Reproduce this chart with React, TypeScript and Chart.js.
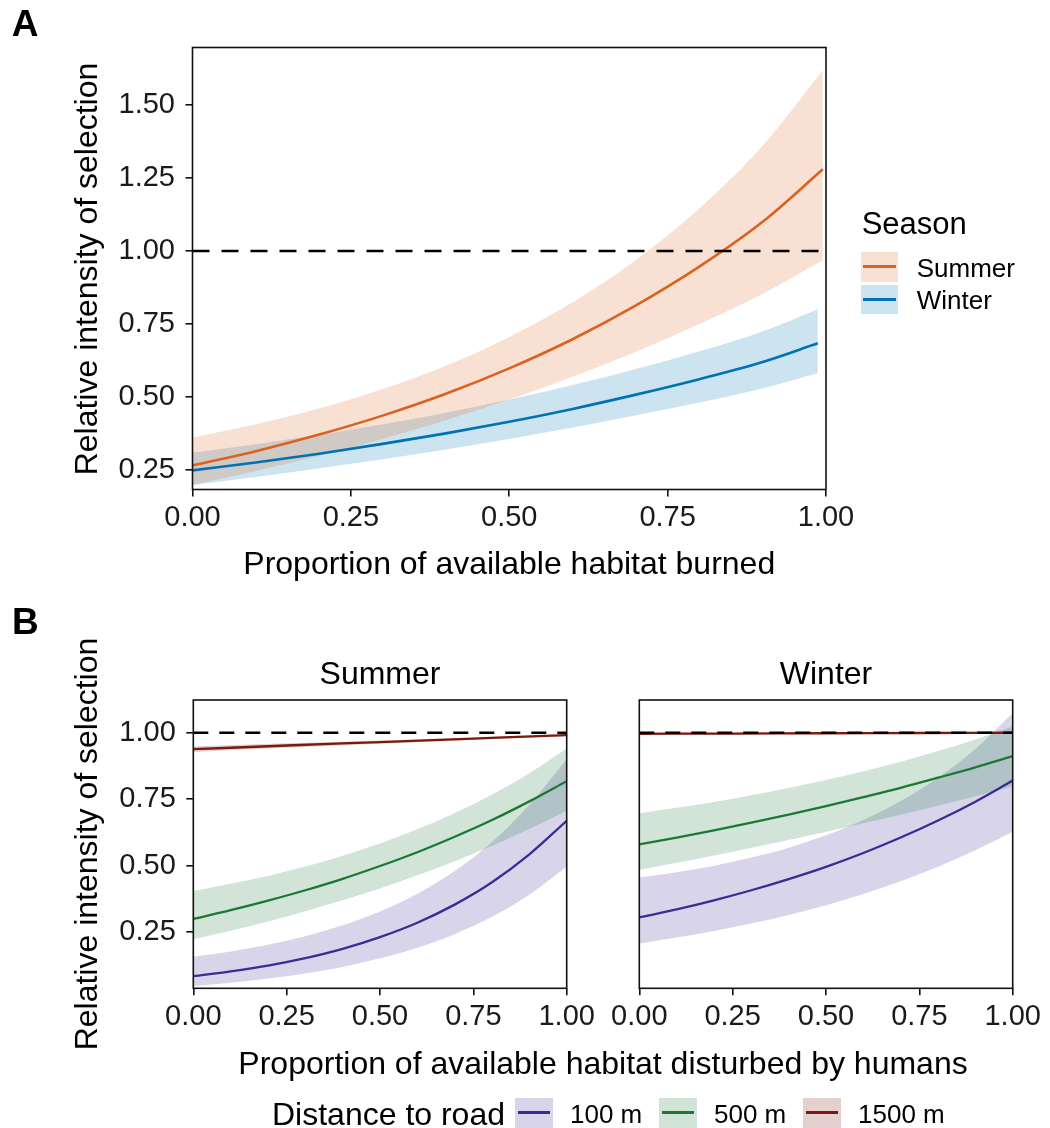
import React, { useEffect, useRef } from "react";
import { Chart, registerables } from "chart.js";

Chart.register(...registerables);

// ---------- Panel A: selection vs. proportion of habitat burned ----------
const seasons = ["Summer", "Winter"];
const burnSummerX = [0, 0.1, 0.2, 0.3, 0.4, 0.5, 0.6, 0.7, 0.8, 0.9, 0.995];
const summerFit = [0.264, 0.313, 0.37, 0.435, 0.51, 0.597, 0.697, 0.813, 0.946, 1.1, 1.28];
const summerLow = [0.197, 0.245, 0.297, 0.355, 0.419, 0.49, 0.568, 0.654, 0.749, 0.853, 0.968];
const summerHigh = [0.36, 0.405, 0.459, 0.526, 0.606, 0.705, 0.824, 0.969, 1.146, 1.361, 1.62];

const burnWinterX = [0, 0.1, 0.2, 0.3, 0.4, 0.5, 0.6, 0.7, 0.8, 0.9, 0.987];
const winterFit = [0.247, 0.274, 0.304, 0.338, 0.374, 0.414, 0.458, 0.507, 0.56, 0.619, 0.683];
const winterLow = [0.197, 0.224, 0.254, 0.285, 0.319, 0.355, 0.394, 0.436, 0.48, 0.528, 0.58];
const winterHigh = [0.308, 0.337, 0.369, 0.405, 0.445, 0.49, 0.54, 0.595, 0.656, 0.724, 0.8];

// ---------- Panel B: selection vs. proportion disturbed by humans ----------
const roadLabels = ["100 m", "500 m", "1500 m"];
const disturbX = [0, 0.1, 0.2, 0.3, 0.4, 0.5, 0.6, 0.7, 0.8, 0.9, 1];
const road1500X = [0, 0.25, 0.5, 0.75, 1];

const road100SummerFit = [0.085, 0.103, 0.125, 0.153, 0.188, 0.232, 0.286, 0.354, 0.438, 0.543, 0.669];
const road100SummerLow = [0.048, 0.06, 0.076, 0.095, 0.12, 0.152, 0.192, 0.243, 0.308, 0.391, 0.496];
const road100SummerHigh = [0.158, 0.178, 0.203, 0.235, 0.276, 0.328, 0.395, 0.48, 0.589, 0.729, 0.9];
const road500SummerFit = [0.3, 0.333, 0.369, 0.408, 0.451, 0.499, 0.551, 0.609, 0.672, 0.742, 0.818];
const road500SummerLow = [0.224, 0.256, 0.291, 0.329, 0.37, 0.415, 0.464, 0.517, 0.575, 0.638, 0.707];
const road500SummerHigh = [0.405, 0.432, 0.462, 0.497, 0.538, 0.584, 0.637, 0.698, 0.768, 0.848, 0.941];
const road1500SummerFit = [0.938, 0.952, 0.965, 0.978, 0.991];
const road1500SummerLow = [0.928, 0.944, 0.959, 0.974, 0.988];
const road1500SummerHigh = [0.948, 0.96, 0.971, 0.982, 0.994];

const road100WinterFit = [0.306, 0.336, 0.37, 0.408, 0.45, 0.496, 0.548, 0.606, 0.67, 0.741, 0.82];
const road100WinterLow = [0.208, 0.23, 0.255, 0.283, 0.315, 0.352, 0.394, 0.442, 0.496, 0.558, 0.628];
const road100WinterHigh = [0.456, 0.476, 0.5, 0.531, 0.568, 0.615, 0.672, 0.743, 0.831, 0.939, 1.073];
const road500WinterFit = [0.58, 0.606, 0.633, 0.662, 0.692, 0.724, 0.758, 0.793, 0.831, 0.87, 0.912];
const road500WinterLow = [0.484, 0.511, 0.539, 0.568, 0.597, 0.628, 0.66, 0.692, 0.726, 0.761, 0.797];
const road500WinterHigh = [0.697, 0.718, 0.74, 0.765, 0.792, 0.822, 0.855, 0.891, 0.931, 0.975, 1.023];
const road1500WinterFit = [0.996, 0.997, 0.998, 0.999, 1.0];
const road1500WinterLow = [0.992, 0.994, 0.995, 0.997, 0.998];
const road1500WinterHigh = [1.0, 1.0, 1.001, 1.001, 1.002];

// reference line at "no selection"
const refX = [0, 1];
const refY = [1, 1];

// axis ticks
const xTicks = [0, 0.25, 0.5, 0.75, 1];
const yTicksA = [0.25, 0.5, 0.75, 1, 1.25, 1.5];
const yTicksB = [0.25, 0.5, 0.75, 1];

const seasonColors = ["#DA6220", "#0072B2"];
const roadColors = ["#3A2C94", "#1A7A35", "#7A1A0D"];

const FONT = '"Liberation Sans", Arial, Helvetica, sans-serif';
const X_AXIS_H = 60;

type Band = { x: number[]; fit: number[]; low: number[]; high: number[]; color: string };

const pts = (xs: number[], ys: number[]) => xs.map((x, i) => ({ x, y: ys[i] }));

const alpha = (hex: string, a: number) => {
  const n = parseInt(hex.slice(1), 16);
  return `rgba(${(n >> 16) & 255},${(n >> 8) & 255},${n & 255},${a})`;
};

const panelBox = {
  id: "panelBox",
  afterDatasetsDraw(chart: any) {
    const { ctx, chartArea: a } = chart;
    ctx.save();
    ctx.strokeStyle = "#111";
    ctx.lineWidth = 1.6;
    ctx.strokeRect(a.left, a.top, a.right - a.left, a.bottom - a.top);
    ctx.restore();
  },
};

type PanelSpec = {
  width: number;
  height: number;
  area: { left: number; top: number; right: number; bottom: number };
  yMin: number;
  yMax: number;
  yTicks: number[] | null;
  dash: number[];
  lineWidth: number;
  series: Band[];
};

function buildConfig(p: PanelSpec): any {
  const datasets: any[] = [];
  datasets.push({
    data: pts(refX, refY),
    borderColor: "#000",
    borderWidth: 2.6,
    borderDash: p.dash,
    pointRadius: 0,
    fill: false,
  });
  p.series.forEach((s) => {
    datasets.push({
      data: pts(s.x, s.fit),
      borderColor: s.color,
      borderWidth: p.lineWidth,
      pointRadius: 0,
      fill: false,
      cubicInterpolationMode: "monotone",
    });
  });
  p.series.forEach((s) => {
    const hiIndex = datasets.length;
    datasets.push({
      data: pts(s.x, s.high),
      borderColor: "rgba(0,0,0,0)",
      borderWidth: 0,
      pointRadius: 0,
      fill: { target: hiIndex + 1 },
      backgroundColor: alpha(s.color, 0.2),
      cubicInterpolationMode: "monotone",
    });
    datasets.push({
      data: pts(s.x, s.low),
      borderColor: "rgba(0,0,0,0)",
      borderWidth: 0,
      pointRadius: 0,
      fill: false,
      cubicInterpolationMode: "monotone",
    });
  });

  const tickFont = { family: FONT, size: 29 };
  const tickGrid = {
    display: true,
    drawOnChartArea: false,
    drawTicks: true,
    tickLength: 7,
    color: "#111",
    lineWidth: 1.6,
  };

  return {
    type: "line",
    data: { datasets },
    plugins: [panelBox],
    options: {
      animation: false,
      responsive: false,
      events: [],
      layout: {
        padding: {
          left: p.yTicks ? 0 : p.area.left,
          top: p.area.top,
          right: p.width - p.area.right,
          bottom: p.height - p.area.bottom - X_AXIS_H,
        },
      },
      plugins: {
        legend: { display: false },
        tooltip: { enabled: false },
        filler: { drawTime: "beforeDatasetsDraw", propagate: false },
      },
      scales: {
        x: {
          type: "linear",
          min: 0,
          max: 1,
          afterBuildTicks: (s: any) => {
            s.ticks = xTicks.map((value) => ({ value }));
          },
          afterFit: (s: any) => {
            s.height = X_AXIS_H;
          },
          grid: tickGrid,
          border: { display: false },
          ticks: {
            font: tickFont,
            color: "#1a1a1a",
            padding: 4,
            maxRotation: 0,
            autoSkip: false,
            callback: (v: any) => Number(v).toFixed(2),
          },
        },
        y: {
          type: "linear",
          display: !!p.yTicks,
          min: p.yMin,
          max: p.yMax,
          afterBuildTicks: (s: any) => {
            s.ticks = (p.yTicks || []).map((value) => ({ value }));
          },
          afterFit: (s: any) => {
            s.width = p.yTicks ? p.area.left : 0;
          },
          grid: tickGrid,
          border: { display: false },
          ticks: {
            font: tickFont,
            color: "#1a1a1a",
            padding: 10.5,
            autoSkip: false,
            callback: (v: any) => Number(v).toFixed(2),
          },
        },
      },
    },
  };
}

function ChartCanvas({ left, top, spec }: { left: number; top: number; spec: PanelSpec }) {
  const ref = useRef<HTMLCanvasElement>(null);
  useEffect(() => {
    const chart = new Chart(ref.current as HTMLCanvasElement, buildConfig(spec));
    return () => chart.destroy();
  }, []);
  return (
    <canvas
      ref={ref}
      width={spec.width}
      height={spec.height}
      style={{ position: "absolute", left, top, width: spec.width, height: spec.height }}
    />
  );
}

function Txt({
  x,
  y,
  size,
  children,
  bold = false,
  rotate = false,
  anchor = "middle",
}: {
  x: number;
  y: number;
  size: number;
  children: React.ReactNode;
  bold?: boolean;
  rotate?: boolean;
  anchor?: "start" | "middle" | "end";
}) {
  const tx = anchor === "start" ? "0" : anchor === "end" ? "-100%" : "-50%";
  return (
    <div
      style={{
        position: "absolute",
        left: x,
        top: y,
        transform: `translate(${tx},-50%)${rotate ? " rotate(-90deg)" : ""}`,
        fontFamily: FONT,
        fontSize: size,
        fontWeight: bold ? 700 : 400,
        lineHeight: 1,
        whiteSpace: "nowrap",
        color: "#000",
      }}
    >
      {children}
    </div>
  );
}

function KeyBox({ x, y, color }: { x: number; y: number; color: string }) {
  return (
    <div
      style={{
        position: "absolute",
        left: x,
        top: y,
        width: 37.5,
        height: 29.3,
        background: alpha(color, 0.2),
      }}
    >
      <div
        style={{
          position: "absolute",
          left: 2.5,
          right: 2.5,
          top: 13.2,
          height: 3,
          background: color,
        }}
      />
    </div>
  );
}

const panelA: PanelSpec = {
  width: 1050,
  height: 600,
  area: { left: 192.5, top: 47.5, right: 826, bottom: 489.5 },
  yMin: 0.1815,
  yMax: 1.698,
  yTicks: yTicksA,
  dash: [17, 12],
  lineWidth: 2.6,
  series: [
    { x: burnSummerX, fit: summerFit, low: summerLow, high: summerHigh, color: seasonColors[0] },
    { x: burnWinterX, fit: winterFit, low: winterLow, high: winterHigh, color: seasonColors[1] },
  ],
};

const panelBSummer: PanelSpec = {
  width: 610,
  height: 528,
  area: { left: 193.3, top: 100, right: 566.7, bottom: 388.3 },
  yMin: 0.0395,
  yMax: 1.123,
  yTicks: yTicksB,
  dash: [15, 11],
  lineWidth: 2.3,
  series: [
    { x: road1500X, fit: road1500SummerFit, low: road1500SummerLow, high: road1500SummerHigh, color: roadColors[2] },
    { x: disturbX, fit: road500SummerFit, low: road500SummerLow, high: road500SummerHigh, color: roadColors[1] },
    { x: disturbX, fit: road100SummerFit, low: road100SummerLow, high: road100SummerHigh, color: roadColors[0] },
  ],
};

const panelBWinter: PanelSpec = {
  width: 450,
  height: 528,
  area: { left: 39.3, top: 100, right: 412.7, bottom: 388.3 },
  yMin: 0.0395,
  yMax: 1.123,
  yTicks: null,
  dash: [15, 11],
  lineWidth: 2.3,
  series: [
    { x: road1500X, fit: road1500WinterFit, low: road1500WinterLow, high: road1500WinterHigh, color: roadColors[2] },
    { x: disturbX, fit: road500WinterFit, low: road500WinterLow, high: road500WinterHigh, color: roadColors[1] },
    { x: disturbX, fit: road100WinterFit, low: road100WinterLow, high: road100WinterHigh, color: roadColors[0] },
  ],
};

export default function App() {
  return (
    <div
      style={{
        position: "absolute",
        left: 0,
        top: 0,
        width: 1050,
        height: 1128,
        background: "#fff",
        overflow: "hidden",
      }}
    >
      <ChartCanvas left={0} top={0} spec={panelA} />
      <ChartCanvas left={0} top={600} spec={panelBSummer} />
      <ChartCanvas left={600} top={600} spec={panelBWinter} />

      {/* panel letters */}
      <Txt x={25} y={23.3} size={37} bold>A</Txt>
      <Txt x={25.3} y={620.5} size={37} bold>B</Txt>

      {/* panel A axis titles */}
      <Txt x={86} y={268.75} size={32} rotate>Relative intensity of selection</Txt>
      <Txt x={509.25} y={562.5} size={32}>Proportion of available habitat burned</Txt>

      {/* panel A legend */}
      <Txt x={861.7} y={222.5} size={31} anchor="start">Season</Txt>
      <KeyBox x={860.7} y={252.3} color={seasonColors[0]} />
      <KeyBox x={860.7} y={285} color={seasonColors[1]} />
      <Txt x={916.7} y={268.3} size={26} anchor="start">{seasons[0]}</Txt>
      <Txt x={916.7} y={299.5} size={26} anchor="start">{seasons[1]}</Txt>

      {/* panel B facet titles and axis titles */}
      <Txt x={380} y={673} size={32}>{seasons[0]}</Txt>
      <Txt x={826} y={673} size={32}>{seasons[1]}</Txt>
      <Txt x={86} y={844} size={32} rotate>Relative intensity of selection</Txt>
      <Txt x={603} y={1062.5} size={32}>Proportion of available habitat disturbed by humans</Txt>

      {/* panel B legend */}
      <Txt x={505} y={1113.8} size={32} anchor="end">Distance to road</Txt>
      <KeyBox x={515} y={1098.3} color={roadColors[0]} />
      <Txt x={570} y={1113.8} size={26} anchor="start">{roadLabels[0]}</Txt>
      <KeyBox x={659.3} y={1098.3} color={roadColors[1]} />
      <Txt x={714} y={1113.8} size={26} anchor="start">{roadLabels[1]}</Txt>
      <KeyBox x={803.3} y={1098.3} color={roadColors[2]} />
      <Txt x={858} y={1113.8} size={26} anchor="start">{roadLabels[2]}</Txt>
    </div>
  );
}
